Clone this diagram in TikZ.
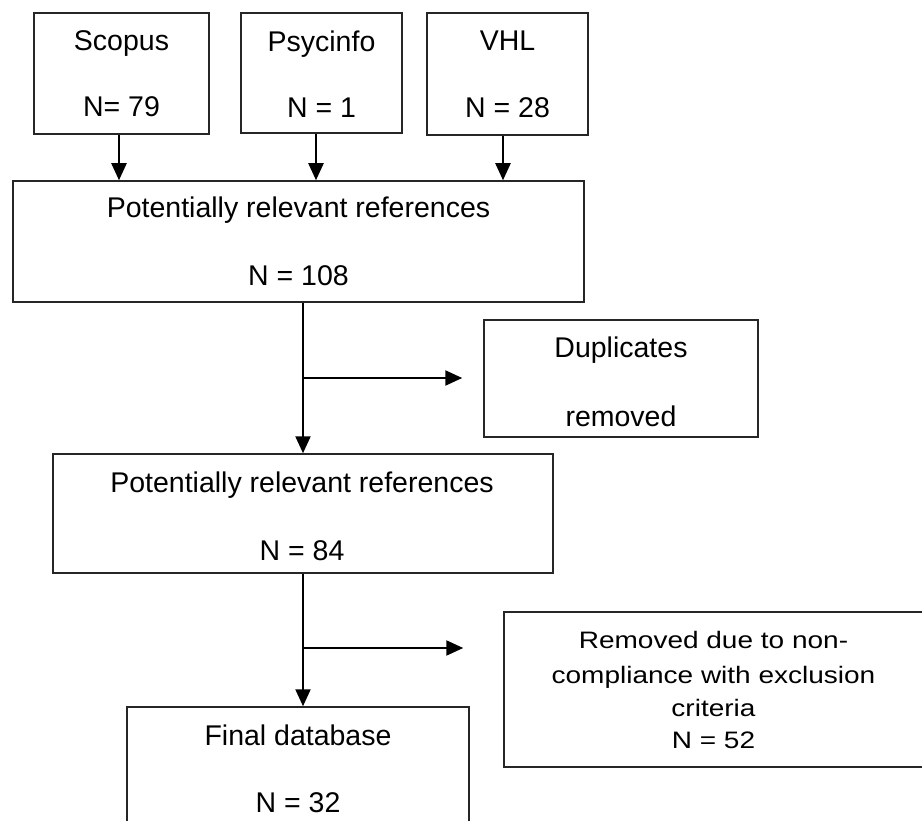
\documentclass[tikz,border=0pt]{standalone}
\usepackage{fontspec}
\setmainfont{Liberation Sans}
\usepackage{graphicx}
\usetikzlibrary{arrows.meta,calc}
\begin{document}
\begin{tikzpicture}[x=1pt,y=-1pt,
  box/.style={draw=black!85,line width=1.5pt,rectangle,inner sep=0pt},
  lbl/.style={anchor=base,inner sep=0pt,font=\fontsize{28.5}{33}\selectfont},
  sml/.style={anchor=base,inner sep=0pt,font=\fontsize{28}{33}\selectfont},
  arr/.style={line width=2.3pt,-{Triangle[length=17pt,width=15pt]}}]
\clip (0,0) rectangle (922,821);
% boxes
\node[box,minimum width=175pt,minimum height=121pt] (scopus) at (121.5,73.5) {};
\node[box,minimum width=161pt,minimum height=120pt] (psy) at (321.5,73) {};
\node[box,minimum width=161pt,minimum height=122pt] (vhl) at (507.5,74) {};
\node[box,minimum width=571pt,minimum height=121pt] (main) at (298.5,241.5) {};
\node[box,minimum width=274pt,minimum height=117pt] (dup) at (621,378.5) {};
\node[box,minimum width=500pt,minimum height=119pt] (second) at (303,513.5) {};
\node[box,minimum width=419pt,minimum height=155pt] (removed) at (713.5,689.5) {};
\node[box,minimum width=342pt,minimum height=143pt] (final) at (298,778.5) {};
% texts
\node[lbl] (t1) at (121.5,51) {Scopus};
\node[lbl] (t2) at (121.5,117) {N= 79};
\node[lbl] (t3) at (321.5,52) {Psycinfo};
\node[lbl] (t4) at (321.5,118) {N = 1};
\node[lbl] (t5) at (507.5,51) {VHL};
\node[lbl] (t6) at (507.5,118) {N = 28};
\node[lbl] (t7) at (298.5,218) {Potentially relevant references};
\node[lbl] (t8) at (298.5,286) {N = 108};
\node[lbl] (t9) at (621,358) {Duplicates};
\node[lbl] (t10) at (621,426) {removed};
\node[lbl] (t11) at (302,492) {Potentially relevant references};
\node[lbl] (t12) at (302,560) {N = 84};
\node[sml] (t13) at (713.5,648) {\scalebox{1}[0.85]{Removed due to non-}};
\node[sml] (t14) at (713.5,683) {\scalebox{1}[0.85]{compliance with exclusion}};
\node[sml] (t15) at (713.5,716) {\scalebox{1}[0.85]{criteria}};
\node[sml] (t16) at (713.5,748) {\scalebox{1}[0.85]{N = 52}};
\node[lbl] (t17) at (298,745) {Final database};
\node[lbl] (t18) at (298,812) {N = 32};
% connectors
\draw[arr] ([xshift=-2.5pt]scopus.south) -- ([xshift=-2.5pt]scopus.south |- main.north);
\draw[arr] ([xshift=-5.5pt]psy.south) -- ([xshift=-5.5pt]psy.south |- main.north);
\draw[arr] ([xshift=-4.5pt]vhl.south) -- ([xshift=-4.5pt]vhl.south |- main.north);
\draw[arr] (second.north |- main.south) -- (second.north);
\coordinate (b1) at (303,378);
\draw[arr] (b1) -- ($(b1 -| dup.west)+(-21,0)$);
\draw[arr] (second.south) -- (second.south |- final.north);
\coordinate (b2) at (303,648);
\draw[arr] (b2) -- ($(b2 -| removed.west)+(-40,0)$);
\end{tikzpicture}
\end{document}
